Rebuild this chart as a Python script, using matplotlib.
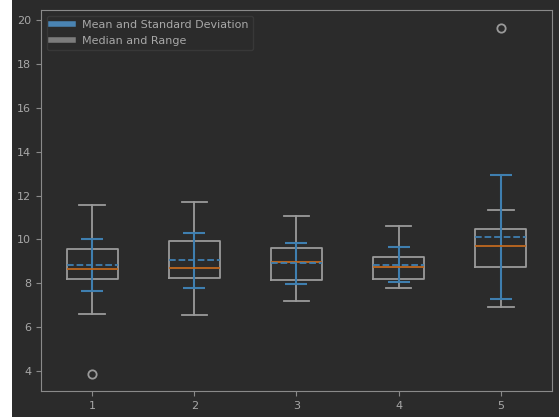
import matplotlib
matplotlib.use("Agg")
import matplotlib.pyplot as plt
from matplotlib.lines import Line2D
from matplotlib.patches import Rectangle

# values
positions = [1, 2, 3, 4, 5]
whislo = [6.62, 6.55, 7.22, 7.77, 6.93]
q1 = [8.22, 8.25, 8.17, 8.22, 8.73]
med = [8.66, 8.72, 8.98, 8.75, 9.70]
q3 = [9.58, 9.94, 9.62, 9.22, 10.48]
whishi = [11.57, 11.70, 11.07, 10.60, 11.34]
means = [8.84, 9.06, 8.92, 8.86, 10.10]
stds = [1.19, 1.25, 0.93, 0.78, 2.83]
fliers = [[3.88], [], [], [], [19.65]]

bg = '#2b2b2b'
grey = '#9a9a9a'
blue = '#3f7fb0'
orange = '#c0691f'
txt = '#a8a8a8'

stats = []
for i in range(len(positions)):
    stats.append({'whislo': whislo[i], 'q1': q1[i], 'med': med[i], 'q3': q3[i],
                  'whishi': whishi[i], 'mean': means[i], 'fliers': fliers[i]})

fig = plt.figure(figsize=(5.59, 4.17), dpi=100, facecolor=bg)
fig.patches.append(Rectangle((0, 0), 12 / 559, 1, transform=fig.transFigure,
                             facecolor='white', edgecolor='none', zorder=-1))
ax = fig.add_axes([0.0733, 0.0624, 0.9142, 0.9136])
ax.set_facecolor(bg)

ax.bxp(stats, positions=positions, widths=0.5, showmeans=True, meanline=True,
       boxprops=dict(color=grey, linewidth=1.3),
       whiskerprops=dict(color=grey, linewidth=1.3),
       capprops=dict(color=grey, linewidth=1.3),
       medianprops=dict(color=orange, linewidth=1.3),
       meanprops=dict(color=blue, linestyle='--', linewidth=1.3),
       flierprops=dict(marker='o', markerfacecolor='none', markeredgecolor=grey,
                       markersize=6, markeredgewidth=1.3))
ax.errorbar(positions, means, yerr=stds, fmt='none', ecolor=blue,
            capsize=8, elinewidth=1.5, capthick=1.5)

ax.set_xlim(0.5, 5.5)
ax.set_ylim(3.1, 20.45)
ax.set_yticks([4, 6, 8, 10, 12, 14, 16, 18, 20])
for s in ax.spines.values():
    s.set_color('#8a8a8a')
ax.tick_params(colors='#8a8a8a', labelcolor=txt, labelsize=8)

handles = [Line2D([], [], color='#4a84b3', linewidth=4),
           Line2D([], [], color='#7c7c7c', linewidth=4)]
leg = ax.legend(handles, ['Mean and Standard Deviation', 'Median and Range'],
                loc='upper left', facecolor=bg, edgecolor='#3c3c3c',
                fontsize=8, handlelength=2.0)
for t in leg.get_texts():
    t.set_color(txt)

fig.savefig('out.png', dpi=100, facecolor=bg)
